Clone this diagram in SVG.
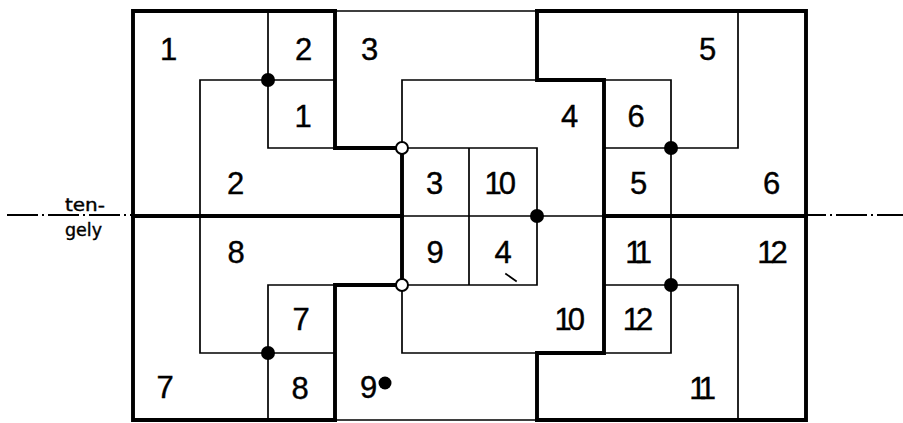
<svg xmlns="http://www.w3.org/2000/svg" width="903" height="423" viewBox="0 0 903 423">
<style>
.thick{fill:none;stroke:#000;stroke-width:3.9;stroke-linecap:square;stroke-linejoin:miter}
.thin{fill:none;stroke:#000;stroke-width:1.7;stroke-linecap:square}
.axis{fill:none;stroke:#000;stroke-width:1.9;stroke-dasharray:31 4 2 4}
.dot{fill:#000}
.open{fill:#fff;stroke:#000;stroke-width:2}
.lbl{font-family:"Liberation Sans",Arial,sans-serif;font-size:31px;fill:#000;stroke:#000;stroke-width:0.4;text-anchor:middle}
.lbl2{font-family:"Liberation Sans",Arial,sans-serif;font-size:31px;fill:#000;stroke:#000;stroke-width:0.4;text-anchor:start}
.ax{font-family:"DejaVu Sans","Liberation Sans",sans-serif;font-size:17px;fill:#000;stroke:#000;stroke-width:0.4}
</style>
<rect width="903" height="423" fill="#fff"/>
<g id="connectors">
  <g id="thin-lines">
    <path class="thin" d="M335,11 H537 M335,420 H537 M402,216 H604"/>
    <path class="thin" d="M268,11 V148 M200,80 H335 M200,80 V353 M268,148 H335 M200,353 H335 M268,285 V420 M268,285 H335"/>
    <path class="thin" d="M402,80 H537 M402,80 V148 M402,148 H537 M469,148 V285 M537,148 V285 M402,285 H537 M402,285 V353 M402,353 H537"/>
    <path class="thin" d="M604,80 H671 M671,80 V353 M604,148 H738 M738,11 V148 M604,285 H738 M738,285 V420 M604,353 H671"/>
    <path class="thin" d="M506,274 L516,281" stroke-width="1.3"/>
  </g>
  <g id="thick-lines">
    <path class="thick" d="M335,11 H133 V420 H335"/>
    <path class="thick" d="M537,11 H806 V420 H537"/>
    <path class="thick" d="M335,11 V148 H402 V285 H335 V420"/>
    <path class="thick" d="M537,11 V80 H604 V353 H537 V420"/>
    <path class="thick" d="M133,216 H402 M604,216 H806"/>
  </g>
  <g id="axis">
    <path class="axis" d="M7,215 H132"/>
    <path class="axis" d="M808,215 H903" stroke-dashoffset="13"/>
  </g>
</g>
<g id="joints">
  <circle class="dot" cx="268" cy="80" r="7"/>
  <circle class="dot" cx="268" cy="353" r="7"/>
  <circle class="dot" cx="537" cy="216" r="7"/>
  <circle class="dot" cx="671" cy="148" r="7"/>
  <circle class="dot" cx="671" cy="285" r="7"/>
  <circle class="open" cx="402" cy="148" r="6"/>
  <circle class="open" cx="402" cy="285" r="6"/>
  <circle class="dot" cx="385" cy="383" r="6.5"/>
</g>
<g id="axis-label">
  <text class="ax" x="65" y="211" textLength="40" lengthAdjust="spacingAndGlyphs">ten-</text>
  <text class="ax" x="65" y="236" textLength="37" lengthAdjust="spacingAndGlyphs">gely</text>
</g>
<g id="labels">
  <g id="row1">
    <text class="lbl" x="168.5" y="60">1</text>
    <text class="lbl" x="303.5" y="60">2</text>
    <text class="lbl" x="369.5" y="60">3</text>
    <text class="lbl" x="707.5" y="60">5</text>
  </g>
  <g id="row2">
    <text class="lbl" x="303" y="127">1</text>
    <text class="lbl" x="569.5" y="127">4</text>
    <text class="lbl" x="636" y="127">6</text>
  </g>
  <g id="row3">
    <text class="lbl" x="235.5" y="194">2</text>
    <text class="lbl" x="434.5" y="194">3</text>
    <text class="lbl2" x="484.6" y="194" letter-spacing="-3">10</text>
    <text class="lbl" x="638.5" y="194">5</text>
    <text class="lbl" x="771.5" y="194">6</text>
  </g>
  <g id="row4">
    <text class="lbl" x="236" y="263">8</text>
    <text class="lbl" x="435" y="263">9</text>
    <text class="lbl" x="503" y="263">4</text>
    <text class="lbl2" x="625.2" y="263" letter-spacing="-5.5">11</text>
    <text class="lbl2" x="757.3" y="263" letter-spacing="-4">12</text>
  </g>
  <g id="row5">
    <text class="lbl" x="301" y="330">7</text>
    <text class="lbl2" x="554.6" y="330" letter-spacing="-4">10</text>
    <text class="lbl2" x="622.8" y="330" letter-spacing="-4">12</text>
  </g>
  <g id="row6">
    <text class="lbl" x="165" y="398">7</text>
    <text class="lbl" x="300" y="399">8</text>
    <text class="lbl" x="368.5" y="398">9</text>
    <text class="lbl2" x="689.2" y="399" letter-spacing="-5.5">11</text>
  </g>
</g>
</svg>
